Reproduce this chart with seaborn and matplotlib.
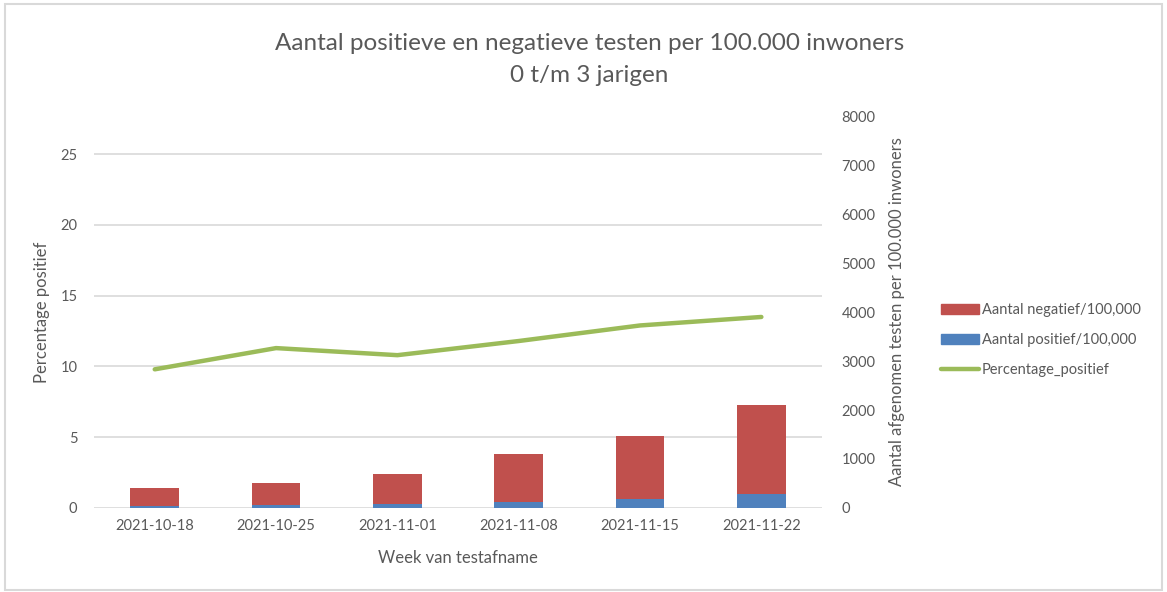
import numpy as np
import seaborn as sns
import matplotlib.pyplot as plt
from matplotlib.patches import Rectangle, Patch
from matplotlib.lines import Line2D

# data
weeks = ['2021-10-18', '2021-10-25', '2021-11-01', '2021-11-08', '2021-11-15', '2021-11-22']
positief = [40, 58, 75, 131, 190, 285]
negatief = [369, 453, 620, 979, 1282, 1827]
percentage = [9.8, 11.3, 10.8, 11.8, 12.9, 13.5]

RED = '#C0504D'
BLUE = '#4F81BD'
GREEN = '#9BBB59'
TXT = '#595959'

sns.set_style('white')
plt.rcParams['font.family'] = ['Lato', 'DejaVu Sans']

totaal = [p + n for p, n in zip(positief, negatief)]
pct_max = 27.7  # left scale runs up to where 8000 sits on the right one

fig = plt.figure(figsize=(11.67, 5.92), dpi=100)
ax = fig.add_axes([0.0806, 0.1419, 0.6238, 0.6621])
ax2 = ax.twinx()
ax3 = ax.twinx()

# percentage axis with gridlines (left)
ax.set_ylim(0, pct_max)
ax.set_yticks(range(0, 26, 5))
ax.grid(axis='y', color='#D9D9D9', linewidth=1.2)
ax.set_ylabel('Percentage positief', color=TXT, fontsize=12)

# stacked bars on the right axis
sns.barplot(x=weeks, y=totaal, color=RED, width=0.4, saturation=1, linewidth=0, ax=ax2)
sns.barplot(x=weeks, y=positief, color=BLUE, width=0.4, saturation=1, linewidth=0, ax=ax2)
ax2.set_ylim(0, 8000)
ax2.set_yticks(range(0, 8001, 1000))
ax2.set_ylabel('Aantal afgenomen testen per 100.000 inwoners', color=TXT, fontsize=12)

# line on top
sns.lineplot(x=np.arange(len(weeks)), y=percentage, color=GREEN, linewidth=3.2, ax=ax3)
ax3.set_ylim(0, pct_max)
ax3.set_yticks([])
ax3.set_ylabel('')

for a in (ax, ax2, ax3):
    for s in a.spines.values():
        s.set_visible(False)
    a.tick_params(length=0, colors=TXT, labelsize=10.5)
    a.set_xlim(-0.5, len(weeks) - 0.5)

ax.set_xticks(range(len(weeks)))
ax.set_xticklabels(weeks)
ax2.set_xlabel('')
ax.set_xlabel('Week van testafname', color=TXT, fontsize=12, labelpad=12)
ax.tick_params(axis='x', pad=8)
ax.tick_params(axis='y', pad=12)
ax2.tick_params(axis='y', pad=14)
ax.yaxis.set_label_coords(-0.06, 0.5)
ax2.yaxis.set_label_coords(1.092, 0.5)

handles = [Patch(color=RED), Patch(color=BLUE), Line2D([0], [0], color=GREEN, linewidth=3.2)]
labels = ['Aantal negatief/100,000', 'Aantal positief/100,000', 'Percentage_positief']
fig.legend(handles, labels, loc='center left', bbox_to_anchor=(0.795, 0.425), frameon=False,
           fontsize=10.5, labelcolor=TXT, handlelength=2.6, handletextpad=0.2, labelspacing=1.1)

fig.text(0.505, 0.927, 'Aantal positieve en negatieve testen per 100.000 inwoners',
         ha='center', va='center', fontsize=17.5, color=TXT)
fig.text(0.505, 0.872, '0 t/m 3 jarigen', ha='center', va='center', fontsize=17.5, color=TXT)

fig.patches.append(Rectangle((0.004, 0.004), 0.992, 0.99, transform=fig.transFigure,
                             fill=False, edgecolor='#D9D9D9', linewidth=1.5))

plt.savefig('out.png', dpi=100)
